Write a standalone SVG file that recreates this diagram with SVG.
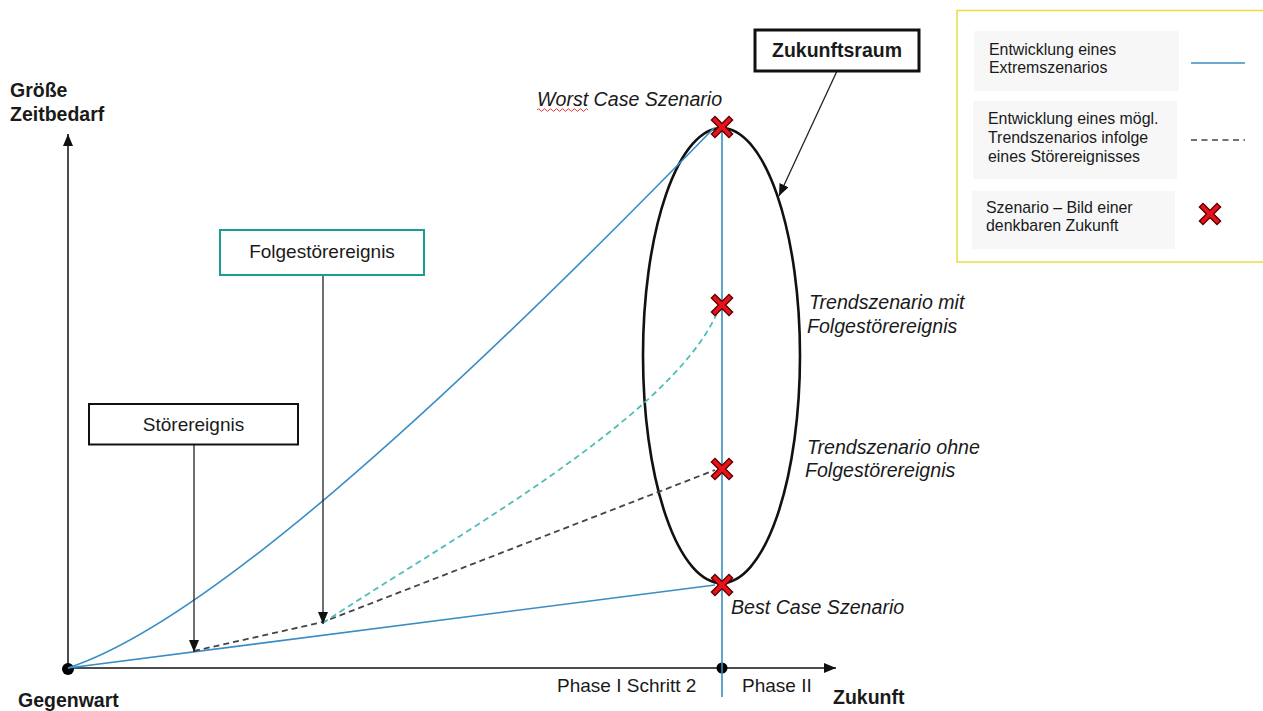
<svg xmlns="http://www.w3.org/2000/svg" width="1263" height="711" viewBox="0 0 1263 711">
<style>
text{font-family:"Liberation Sans",Arial,sans-serif;fill:#1a1a1a}
.b{font-weight:bold;font-size:19.5px}
.n{font-size:19px}
.i{font-style:italic;font-size:19.6px}
.lg{font-size:15.9px}
.blue{fill:none;stroke:#3a8dc4;stroke-width:1.6}
.ax{fill:none;stroke:#111;stroke-width:1.5}
.con{fill:none;stroke:#222;stroke-width:1.3}
.dash{fill:none;stroke:#444;stroke-width:1.8;stroke-dasharray:6 4}
.tdash{fill:none;stroke:#4fbdb6;stroke-width:1.8;stroke-dasharray:6 4}
.lgbox{fill:#f7f7f7;stroke:none}
</style>
<defs>
<marker id="ah" viewBox="0 0 12 10" refX="12" refY="5" markerWidth="12" markerHeight="10" orient="auto" markerUnits="userSpaceOnUse"><path d="M0,0 L12,5 L0,10 z" fill="#111"/></marker>
<g id="xm">
<path d="M-7,-7 L7,7 M-7,7 L7,-7" stroke="#5a0000" stroke-width="6.5" stroke-linecap="square"/>
<path d="M-7,-7 L7,7 M-7,7 L7,-7" stroke="#e8121a" stroke-width="3.8" stroke-linecap="square"/>
</g>
</defs>
<rect width="1263" height="711" fill="#fff"/>

<g id="axes">
<line class="ax" x1="68" y1="668" x2="68" y2="134" marker-end="url(#ah)"/>
<line class="ax" x1="68" y1="668" x2="836" y2="668" marker-end="url(#ah)"/>
<circle cx="68" cy="669" r="6" fill="#000"/>
<circle cx="722" cy="668" r="5.5" fill="#000"/>
<text class="b" x="10" y="97">Größe</text>
<text class="b" x="10" y="121">Zeitbedarf</text>
<text class="b" x="18" y="707">Gegenwart</text>
<text class="b" x="833" y="704">Zukunft</text>
<text class="n" x="557" y="692">Phase I Schritt 2</text>
<text class="n" x="742" y="692">Phase II</text>
</g>

<g id="zukunftsraum-ellipse">
<ellipse cx="721.5" cy="355.5" rx="78.5" ry="227.5" fill="none" stroke="#111" stroke-width="2.6"/>
</g>

<g id="connectors">
<line class="blue" x1="722" y1="127" x2="722" y2="697"/>
<path class="blue" d="M68,668 C200,625 430,420 714,128"/>
<line class="blue" x1="68" y1="668" x2="715" y2="585"/>
<polyline class="dash" points="194,651 323,622 715,470"/>
<path class="tdash" d="M323,623 C440,545 670,420 717,313"/>
<line class="con" x1="194" y1="445" x2="194" y2="652" marker-end="url(#ah)"/>
<line class="con" x1="323" y1="276" x2="323" y2="624" stroke="#444" marker-end="url(#ah)"/>
<line class="con" x1="837" y1="71" x2="779" y2="196" marker-end="url(#ah)"/>
</g>

<g id="scenarios">
<use href="#xm" x="722" y="127"/>
<use href="#xm" x="722" y="305"/>
<use href="#xm" x="722" y="469"/>
<use href="#xm" x="722" y="585"/>
<text class="i" x="537" y="106">Worst Case Szenario</text>
<path d="M537,110 q1.5,-2.5 3,0 t3,0 t3,0 t3,0 t3,0 t3,0 t3,0 t3,0 t3,0 t3,0 t3,0 t3,0 t3,0 t3,0 t3,0 t3,0 t3,0" fill="none" stroke="#e02020" stroke-width="0.9"/>
<text class="i" x="731" y="614">Best Case Szenario</text>
<text class="i" x="809" y="309">Trendszenario mit</text>
<text class="i" x="807" y="333">Folgestörereignis</text>
<text class="i" x="807" y="454">Trendszenario ohne</text>
<text class="i" x="805" y="477">Folgestörereignis</text>
</g>

<g id="stoerereignis">
<rect x="89" y="404" width="209" height="40.5" fill="#fff" stroke="#111" stroke-width="2"/>
<text class="n" x="193.5" y="431" text-anchor="middle">Störereignis</text>
</g>

<g id="folgestoerereignis">
<rect x="220" y="230" width="204" height="45" fill="#fff" stroke="#1a9e93" stroke-width="2"/>
<text class="n" x="322" y="258" text-anchor="middle">Folgestörereignis</text>
</g>

<g id="zukunftsraum">
<rect x="755" y="30" width="164" height="41" fill="#fff" stroke="#111" stroke-width="3"/>
<text class="b" x="837" y="57" text-anchor="middle">Zukunftsraum</text>
</g>

<g id="legend">
<rect x="957" y="10.5" width="310" height="251.5" fill="#fff" stroke="#e6df45" stroke-width="1.5"/>
<rect class="lgbox" x="974" y="31" width="205" height="60"/>
<rect class="lgbox" x="973" y="101" width="204" height="78"/>
<rect class="lgbox" x="972" y="191" width="203" height="58"/>
<text class="lg" x="989" y="55">Entwicklung eines</text>
<text class="lg" x="989" y="73">Extremszenarios</text>
<text class="lg" x="988" y="124">Entwicklung eines mögl.</text>
<text class="lg" x="988" y="143">Trendszenarios infolge</text>
<text class="lg" x="988" y="162">eines Störereignisses</text>
<text class="lg" x="986" y="213">Szenario – Bild einer</text>
<text class="lg" x="986" y="231">denkbaren Zukunft</text>
<line class="blue" x1="1191" y1="63" x2="1245" y2="63"/>
<line x1="1191" y1="140" x2="1245" y2="140" stroke="#444" stroke-width="1.3" stroke-dasharray="6 4.5"/>
<use href="#xm" x="1210" y="214"/>
</g>
</svg>
